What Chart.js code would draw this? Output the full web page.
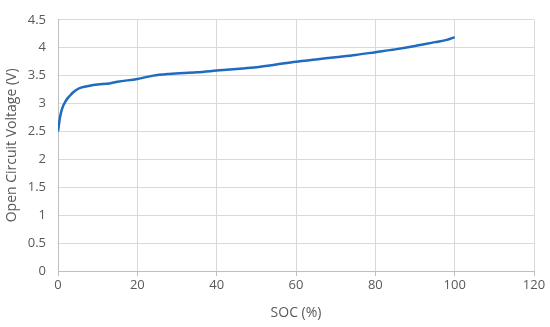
<!DOCTYPE html>
<html>
<head>
<meta charset="utf-8">
<script src="https://cdn.jsdelivr.net/npm/chart.js@4/dist/chart.umd.min.js"></script>
<style>
html,body{margin:0;padding:0;background:#fff;}
#wrap{width:550px;height:327px;position:relative;}
</style>
</head>
<body>
<div id="wrap"><canvas id="c" width="550" height="327"></canvas></div>
<script>
const socValues = [0, 0.5, 1, 2, 3, 4, 5, 6, 8, 10, 13, 15, 20, 24, 28, 35, 40, 45, 50, 55, 60, 65, 70, 75, 80, 85, 90, 95, 98, 100];
const ocvValues = [2.5, 2.75, 2.9, 3.05, 3.14, 3.21, 3.26, 3.29, 3.32, 3.34, 3.36, 3.39, 3.44, 3.50, 3.53, 3.56, 3.59, 3.62, 3.65, 3.70, 3.75, 3.79, 3.83, 3.87, 3.92, 3.97, 4.03, 4.10, 4.14, 4.19];
const xTitle = "SOC (%)";
const yTitle = "Open Circuit Voltage (V)";

const points = socValues.map((x, i) => ({x: x, y: ocvValues[i]}));
const font = {family: "'Open Sans', 'Liberation Sans', sans-serif", size: 13};
const titleFont = {family: "'Open Sans', 'Liberation Sans', sans-serif", size: 14};

new Chart(document.getElementById('c'), {
  type: 'line',
  data: {
    datasets: [{
      data: points,
      borderColor: '#1f6bbf',
      borderWidth: 2.5,
      pointRadius: 0,
      fill: false,
      cubicInterpolationMode: 'monotone'
    }]
  },
  options: {
    responsive: false,
    animation: false,
    plugins: {legend: {display: false}, tooltip: {enabled: false}},
    layout: {padding: {left: 0, right: 16, top: 13, bottom: 0}},
    scales: {
      x: {
        type: 'linear',
        min: 0, max: 120,
        ticks: {stepSize: 20, color: '#595959', font: font, padding: 1, maxRotation: 0},
        grid: {color: '#d9d9d9', tickLength: 5, tickColor: '#bfbfbf'},
        border: {color: '#bfbfbf'},
        title: {display: true, text: xTitle, color: '#595959', font: titleFont, padding: {top: 4, bottom: 6}},
        afterFit: (s) => { s.height = 56; }
      },
      y: {
        type: 'linear',
        min: 0, max: 4.5,
        ticks: {stepSize: 0.5, color: '#595959', font: font, padding: 12,
                callback: (v) => String(Math.round(v * 10) / 10)},
        grid: {color: '#d9d9d9', drawTicks: false},
        border: {color: '#bfbfbf'},
        title: {display: true, text: yTitle, color: '#595959', font: titleFont, padding: {top: 4, bottom: 4}},
        afterFit: (s) => { s.width = 58; }
      }
    }
  }
});
</script>
</body>
</html>
